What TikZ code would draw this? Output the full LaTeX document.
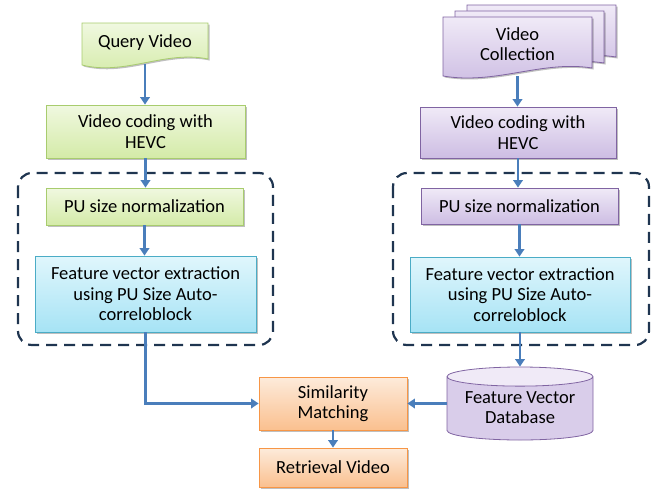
\documentclass[tikz,border=0pt]{standalone}
\usepackage{fontspec}
\setmainfont{Carlito}
\usetikzlibrary{shapes.geometric,arrows.meta,calc,shadows}

\definecolor{flowblue}{HTML}{4A7EBB}
\definecolor{grEdge}{HTML}{A8CC6E}
\definecolor{grTop}{HTML}{F0F8E0}
\definecolor{grBot}{HTML}{D4EBA8}
\definecolor{puEdge}{HTML}{8064A2}
\definecolor{puTop}{HTML}{F0EAF7}
\definecolor{puBot}{HTML}{CDBDE3}
\definecolor{cyEdge}{HTML}{4BACC6}
\definecolor{cyTop}{HTML}{E0F6FC}
\definecolor{cyBot}{HTML}{A6E3F5}
\definecolor{orEdge}{HTML}{F79646}
\definecolor{orTop}{HTML}{FDEBDB}
\definecolor{orBot}{HTML}{FAC08F}
\definecolor{groupEdge}{HTML}{1F3550}

\tikzset{
  lbl/.style={font=\fontsize{18.5}{20.5}\selectfont, text=black, align=center},
  softshadow/.style={drop shadow={shadow xshift=1.5pt, shadow yshift=-1.5pt, opacity=0.25, fill=black}},
  box/.style={lbl, draw, line width=0.8pt, inner sep=2pt, softshadow},
  greenbox/.style={box, draw=grEdge, top color=grTop, bottom color=grBot},
  purplebox/.style={box, draw=puEdge, top color=puTop, bottom color=puBot},
  cyanbox/.style={box, draw=cyEdge, top color=cyTop, bottom color=cyBot},
  orangebox/.style={box, draw=orEdge, top color=orTop, bottom color=orBot},
  greendoc/.style={draw=grEdge, line width=0.8pt, top color=grTop, bottom color=grBot, softshadow},
  purpledoc/.style={draw=puEdge, line width=0.8pt, top color=puTop, bottom color=puBot, softshadow},
  groupbox/.style={draw=groupEdge, line width=2.2pt, rounded corners=14pt,
    dash pattern=on 11pt off 7pt},
  flow/.style={draw=flowblue, line width=2.6pt,
    -{Triangle[width=9.5pt,length=7.5pt]}},
}

\begin{document}
\begin{tikzpicture}[x=1pt,y=-1pt]
\useasboundingbox (0,0) rectangle (659,488);

% ---- left column: query side ----
\path[greendoc] (82,23) -- (208,23) -- (208,59)
  .. controls (165,50) and (125,76) .. (82,65) -- cycle;
\node[lbl, minimum width=126, minimum height=42] (qv) at (145,43) {\raisebox{3pt}{Query Video}};

\node[greenbox, minimum width=199, minimum height=53] (hevcL) at (145.5,131.5)
  {Video coding with\\HEVC};

\draw[groupbox] (18,173) rectangle (273,345);
\node[greenbox, minimum width=197, minimum height=37] (puL) at (144.5,206.5)
  {PU size normalization};
\node[cyanbox, minimum width=221, minimum height=76] (fvL) at (145.5,294)
  {Feature vector extraction\\using PU Size Auto-\\correloblock};

% ---- right column: collection side ----
\path[purpledoc] (467,5) -- (616,5) -- (616,57)
  .. controls (566,49) and (520,73) .. (467,65) -- cycle;
\path[purpledoc] (455,11) -- (604,11) -- (604,63)
  .. controls (554,55) and (508,79) .. (455,71) -- cycle;
\path[purpledoc] (443,17) -- (592,17) -- (592,68)
  .. controls (542,60) and (496,85) .. (443,76) -- cycle;
\node[lbl, minimum width=149, minimum height=59] (vc) at (517.5,46.5)
  {\raisebox{3pt}{\begin{tabular}{@{}c@{}}Video\\Collection\end{tabular}}};

\node[purplebox, minimum width=196, minimum height=51] (hevcR) at (518,132.5)
  {Video coding with\\HEVC};

\draw[groupbox] (393,173) rectangle (649,345);
\node[purplebox, minimum width=197, minimum height=36] (puR) at (519.5,206)
  {PU size normalization};
\node[cyanbox, minimum width=220, minimum height=75] (fvR) at (520,294.5)
  {Feature vector extraction\\using PU Size Auto-\\correloblock};

% feature database drawn as an upright cylinder
\node[lbl, cylinder, shape border rotate=90, aspect=0.17, draw=puEdge, line width=0.8pt,
  cylinder uses custom fill, cylinder body fill=puBot!75!white, cylinder end fill=puTop,
  minimum width=146, minimum height=73, inner sep=1pt, anchor=shape center]
  (db) at (520,403.5) {\raisebox{-6pt}{\begin{tabular}{@{}c@{}}Feature Vector\\Database\end{tabular}}};

% ---- matching ----
\node[orangebox, minimum width=148, minimum height=53] (sim) at (333,403.5)
  {Similarity\\Matching};
\node[orangebox, minimum width=148, minimum height=39] (ret) at (333,467.5)
  {Retrieval Video};

% ---- connectors ----
\draw[flow] (qv.south) -- (qv.south |- hevcL.north);
\draw[flow] (hevcL.south) -- (hevcL.south |- puL.north);
\draw[flow] (puL.south) -- (puL.south |- fvL.north);
\draw[flow] (fvL.south) |- (sim.west);
\draw[flow] (vc.south) -- (vc.south |- hevcR.north);
\draw[flow] (hevcR.south) -- (hevcR.south |- puR.north);
\draw[flow] (puR.south) -- (puR.south |- fvR.north);
\draw[flow] (fvR.south) -- (fvR.south |- db.north);
\draw[flow] (db.west |- sim.east) -- (sim.east);
\draw[flow] (sim) -- (ret);
\end{tikzpicture}
\end{document}
